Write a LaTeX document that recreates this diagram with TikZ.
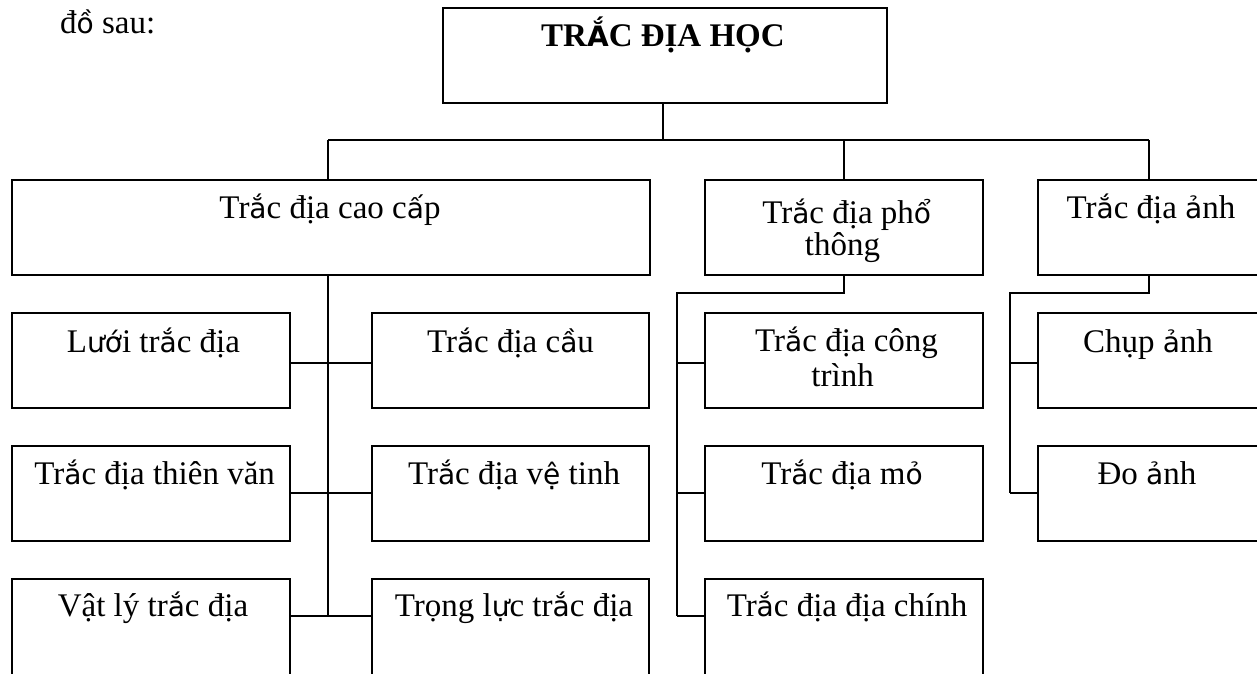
\documentclass[tikz,border=0pt]{standalone}
\usepackage{fontspec}
\setmainfont{Liberation Serif}
\newfontfamily\fbk{DejaVu Sans}[Scale=0.85]
\newcommand\fb[1]{{\fbk #1}}
\begin{document}
\begin{tikzpicture}[x=1pt,y=-1pt,
  box/.style={draw, line width=1.6pt, anchor=north west, inner sep=0pt, minimum height=95pt},
  wire/.style={line width=1.6pt},
  lbl/.style={anchor=base, inner sep=0pt, font=\fontsize{33}{35}\selectfont}]
\useasboundingbox (0,0) rectangle (1257,673);
\clip (0,0) rectangle (1257,673);

% boxes
\node[box, minimum width=444pt] (top) at (442,7) {};
\node[box, minimum width=638pt] (A) at (11,179) {};
\node[box, minimum width=278pt] (B) at (704,179) {};
\node[box, minimum width=229pt] (C) at (1037,179) {};

\node[box, minimum width=278pt] (L1) at (11,312) {};
\node[box, minimum width=278pt] (L2) at (11,445) {};
\node[box, minimum width=278pt, minimum height=130pt] (L3) at (11,578) {};
\node[box, minimum width=277pt] (R1) at (371,312) {};
\node[box, minimum width=277pt] (R2) at (371,445) {};
\node[box, minimum width=277pt, minimum height=130pt] (R3) at (371,578) {};

\node[box, minimum width=278pt] (P1) at (704,312) {};
\node[box, minimum width=278pt] (P2) at (704,445) {};
\node[box, minimum width=278pt, minimum height=130pt] (P3) at (704,578) {};

\node[box, minimum width=229pt] (S1) at (1037,312) {};
\node[box, minimum width=229pt] (S2) at (1037,445) {};

% texts
\node[lbl, anchor=base west] (head) at (60,33.3) {đ\fb{ồ} sau:};
\node[lbl, font=\fontsize{33}{35}\selectfont\bfseries] (ttop) at (663,46.7) {TR{\fbk\bfseries Ắ}C ĐỊA HỌC};
\node[lbl] (tA) at (330,218.3) {Tr\fb{ắ}c địa cao c\fb{ấ}p};
\node[lbl] (tB1) at (846.7,223.3) {Tr\fb{ắ}c địa ph\fb{ổ}};
\node[lbl] (tB2) at (842.5,255) {thông};
\node[lbl] (tC) at (1151,218.3) {Tr\fb{ắ}c địa \fb{ả}nh};

\node[lbl] (tL1) at (153.5,352.7) {L\fb{ướ}i tr\fb{ắ}c địa};
\node[lbl] (tL2) at (154.7,484) {Tr\fb{ắ}c địa thiên văn};
\node[lbl] (tL3) at (153,616) {Vật lý tr\fb{ắ}c địa};
\node[lbl] (tR1) at (510.5,352) {Tr\fb{ắ}c địa c\fb{ầ}u};
\node[lbl] (tR2) at (514,484.3) {Tr\fb{ắ}c địa v\fb{ệ} tinh};
\node[lbl] (tR3) at (514,616.7) {Trọng l\fb{ự}c tr\fb{ắ}c địa};

\node[lbl] (tP1a) at (846.6,351.7) {Tr\fb{ắ}c địa công};
\node[lbl] (tP1b) at (842.6,386.7) {trình};
\node[lbl] (tP2) at (842,484) {Tr\fb{ắ}c địa m\fb{ỏ}};
\node[lbl] (tP3) at (847,616.7) {Tr\fb{ắ}c địa địa chính};

\node[lbl] (tS1) at (1148,352.7) {Chụp \fb{ả}nh};
\node[lbl] (tS2) at (1147,484) {Đo \fb{ả}nh};

% coordinates
\coordinate (bus) at (663,140);
\coordinate (r1) at (0,363);
\coordinate (r2) at (0,493);
\coordinate (r3) at (0,616);
\coordinate (sA) at (328,0);
\coordinate (sC) at (1149,0);
\coordinate (pB) at (677,293);
\coordinate (pC) at (1010,293);

% level 1 connectors
\draw[wire] (top.south -| bus) -- (bus);
\draw[wire] (sA |- bus) -- (sC |- bus);
\draw[wire] (sA |- bus) -- (sA |- A.north);
\draw[wire] (B.north |- bus) -- (B.north);
\draw[wire] (sC |- bus) -- (sC |- C.north);

% cao cap
\draw[wire] (sA |- A.south) -- (sA |- r3);
\draw[wire] (L1.east |- r1) -- (R1.west |- r1);
\draw[wire] (L2.east |- r2) -- (R2.west |- r2);
\draw[wire] (L3.east |- r3) -- (R3.west |- r3);

% pho thong
\draw[wire] (B.south) -- (B.south |- pB) -- (pB) -- (pB |- r3);
\draw[wire] (pB |- r1) -- (P1.west |- r1);
\draw[wire] (pB |- r2) -- (P2.west |- r2);
\draw[wire] (pB |- r3) -- (P3.west |- r3);

% anh
\draw[wire] (sC |- C.south) -- (sC |- pC) -- (pC) -- (pC |- r2);
\draw[wire] (pC |- r1) -- (S1.west |- r1);
\draw[wire] (pC |- r2) -- (S2.west |- r2);
\end{tikzpicture}
\end{document}
